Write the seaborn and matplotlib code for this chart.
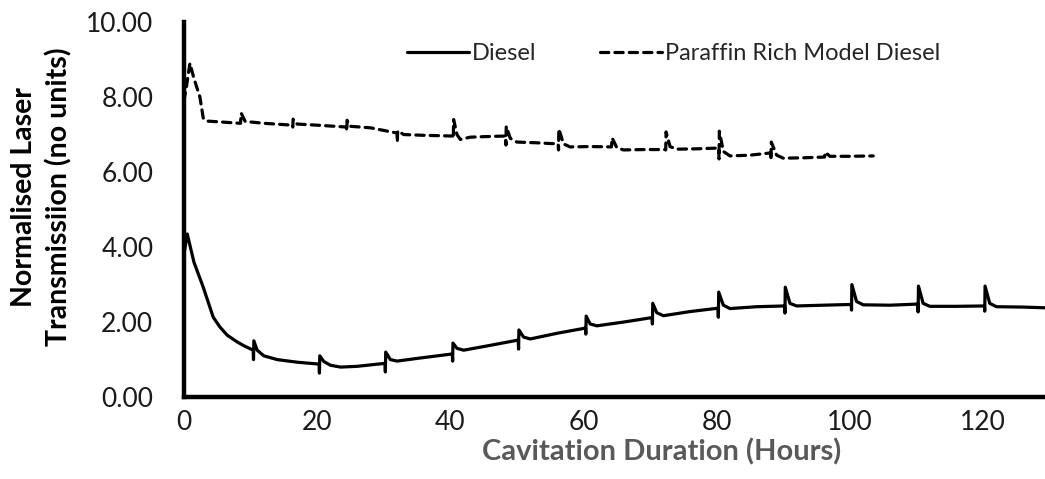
import pandas as pd
import seaborn as sns
import matplotlib.pyplot as plt
from matplotlib.ticker import FormatStrFormatter

# Diesel: hours vs normalised laser transmission (spikes at each restart)
diesel_hours = [0.0, 0.5, 1.5, 2.9, 4.4, 5.4, 6.5, 8.0, 9.0, 10.4, 10.45, 10.5, 11.0, 12.0,
                14.0, 17.0, 20.3, 20.35, 20.4, 21.0, 22.0, 23.5, 26.0, 30.2, 30.25, 30.3,
                31.0, 32.0, 35.4, 40.3, 40.35, 40.4, 41.0, 42.0, 46.0, 50.2, 50.25, 50.3,
                51.0, 52.0, 56.0, 60.3, 60.35, 60.4, 61.0, 62.0, 66.0, 70.3, 70.35, 70.4,
                71.0, 72.0, 76.0, 80.2, 80.25, 80.3, 81.0, 82.0, 86.0, 90.2, 90.25, 90.3,
                91.0, 92.0, 96.0, 100.2, 100.25, 100.3, 101.0, 102.0, 106.0, 110.2, 110.25,
                110.3, 111.0, 112.0, 116.0, 120.2, 120.25, 120.3, 121.0, 122.0, 126.0, 129.5]
diesel_values = [3.80, 4.35, 3.60, 2.93, 2.13, 1.87, 1.65, 1.47, 1.37, 1.25, 1.00, 1.50, 1.25, 1.10,
                 1.00, 0.93, 0.88, 0.64, 1.10, 0.95, 0.85, 0.80, 0.82, 0.90, 0.67, 1.20,
                 1.00, 0.96, 1.04, 1.15, 0.96, 1.44, 1.30, 1.25, 1.38, 1.52, 1.28, 1.79,
                 1.60, 1.55, 1.70, 1.84, 1.68, 2.16, 1.95, 1.90, 2.00, 2.12, 1.95, 2.50,
                 2.25, 2.17, 2.28, 2.37, 2.13, 2.80, 2.45, 2.36, 2.41, 2.43, 2.24, 2.93,
                 2.50, 2.43, 2.45, 2.47, 2.32, 3.00, 2.55, 2.46, 2.45, 2.48, 2.27,
                 2.96, 2.50, 2.42, 2.42, 2.43, 2.29, 2.96, 2.50, 2.41, 2.40, 2.38]

# Paraffin rich model diesel
paraffin_hours = [0.0, 0.4, 0.9, 1.5, 2.4, 2.9, 3.4, 6.0, 8.5, 8.6, 9.2, 12.0, 16.3, 16.35, 16.4,
                  17.0, 20.0, 24.4, 24.45, 24.5, 25.0, 28.0, 32.0, 32.05, 32.1, 33.0, 36.0,
                  40.4, 40.45, 40.5, 41.0, 41.5, 43.0, 46.0, 48.3, 48.35, 48.4, 49.0, 50.0,
                  53.0, 56.2, 56.25, 56.3, 57.0, 58.0, 61.0, 64.2, 64.3, 65.0, 66.0, 69.0,
                  72.3, 72.35, 72.4, 73.0, 74.0, 77.0, 80.3, 80.35, 80.4, 81.0, 82.0, 85.0,
                  88.1, 88.15, 88.2, 89.0, 90.0, 93.0, 96.2, 96.3, 97.0, 100.0, 103.5]
paraffin_values = [7.90, 8.30, 8.90, 8.50, 8.00, 7.44, 7.36, 7.33, 7.30, 7.57, 7.35, 7.30, 7.25, 7.20, 7.41,
                   7.28, 7.25, 7.20, 7.09, 7.38, 7.22, 7.18, 7.04, 6.80, 7.10, 7.00, 6.98,
                   6.96, 6.90, 7.40, 7.00, 6.87, 6.93, 6.95, 6.96, 6.72, 7.22, 6.90, 6.80,
                   6.78, 6.75, 6.59, 7.15, 6.75, 6.67, 6.68, 6.67, 6.91, 6.65, 6.59, 6.60,
                   6.60, 6.59, 7.07, 6.68, 6.61, 6.62, 6.64, 6.35, 7.09, 6.55, 6.43, 6.45,
                   6.51, 6.32, 6.80, 6.45, 6.37, 6.38, 6.40, 6.53, 6.42, 6.42, 6.43]

x_ticks = [0, 20, 40, 60, 80, 100, 120]
y_ticks = [0, 2, 4, 6, 8, 10]

diesel_df = pd.DataFrame({"hours": diesel_hours, "value": diesel_values})
paraffin_df = pd.DataFrame({"hours": paraffin_hours, "value": paraffin_values})

sns.set_style("white")
plt.rcParams['font.family'] = ['Lato', 'DejaVu Sans']

fig = plt.figure(figsize=(10.45, 4.79), dpi=100)
ax = fig.add_axes([0.176, 0.171, 0.824, 0.783])

sns.lineplot(data=diesel_df, x="hours", y="value", ax=ax, color="black", lw=2.3,
             estimator=None, sort=False, label="Diesel")
sns.lineplot(data=paraffin_df, x="hours", y="value", ax=ax, color="black", lw=2.3,
             estimator=None, sort=False, label="Paraffin Rich Model Diesel",
             dashes=False)
ax.lines[1].set_dashes((2.6, 1.9))
ax.lines[1].set_dash_capstyle('round')

ax.set_xlim(0, 129.3)
ax.set_ylim(0, 10)
ax.set_xticks(x_ticks)
ax.set_yticks(y_ticks)
ax.yaxis.set_major_formatter(FormatStrFormatter('%.2f'))
ax.tick_params(axis='both', length=0, labelsize=19, colors='#1a1a1a')
ax.tick_params(axis='y', pad=22)
ax.tick_params(axis='x', pad=9)

for side in ['top', 'right']:
    ax.spines[side].set_visible(False)
for side in ['left', 'bottom']:
    ax.spines[side].set_linewidth(3.2)
    ax.spines[side].set_color('black')

ax.set_xlabel("Cavitation Duration (Hours)", fontsize=21, fontweight='bold',
              color='#595959', va='center')
ax.xaxis.set_label_coords(0.555, -0.147)
ax.set_ylabel("Normalised Laser\nTransmissiion (no units)", fontsize=20.5,
              fontweight='bold', color='black', va='center', linespacing=1.35)
ax.yaxis.set_label_coords(-0.165, 0.533)

leg = ax.legend(loc='center', bbox_to_anchor=(0.569, 0.915), ncol=2, frameon=False,
                fontsize=17, handlelength=2.6, handletextpad=0.15, columnspacing=2.7)
for h in leg.get_lines():
    h.set_linewidth(2.3)

fig.savefig("out.png", dpi=100)
